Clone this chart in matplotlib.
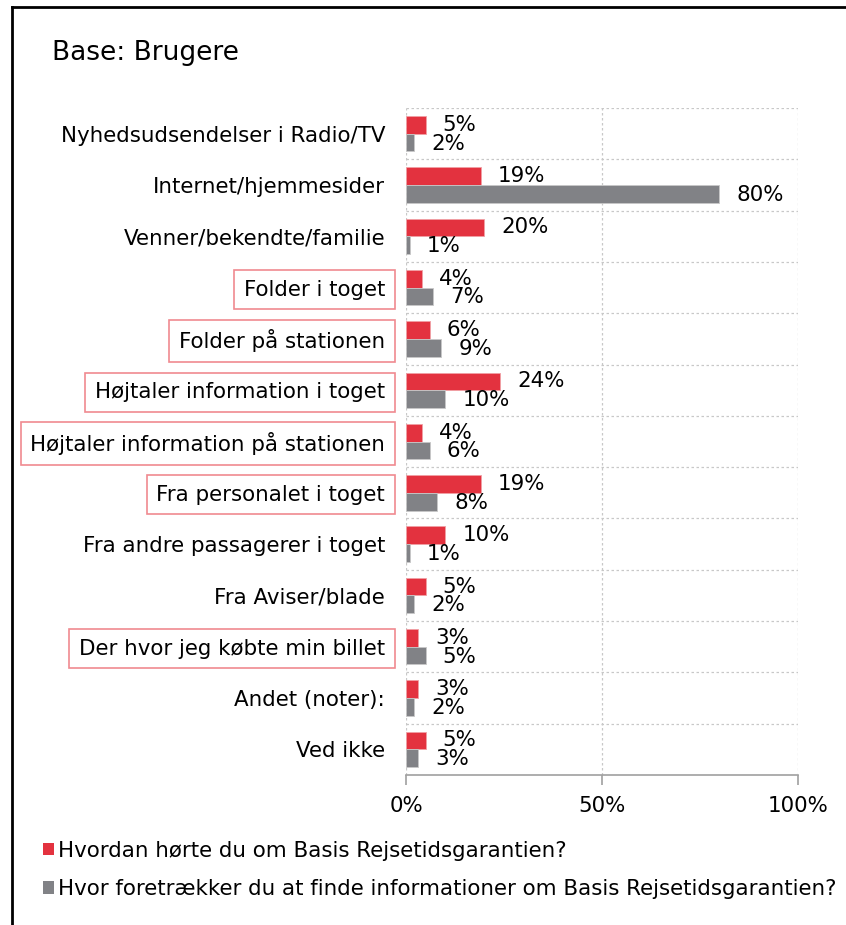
import matplotlib
matplotlib.use("Agg")
import matplotlib.pyplot as plt
from matplotlib.patches import Patch
from matplotlib.lines import Line2D
import numpy as np

# data
categories = [
    "Nyhedsudsendelser i Radio/TV",
    "Internet/hjemmesider",
    "Venner/bekendte/familie",
    "Folder i toget",
    "Folder på stationen",
    "Højtaler information i toget",
    "Højtaler information på stationen",
    "Fra personalet i toget",
    "Fra andre passagerer i toget",
    "Fra Aviser/blade",
    "Der hvor jeg købte min billet",
    "Andet (noter):",
    "Ved ikke",
]
heard = [5, 19, 20, 4, 6, 24, 4, 19, 10, 5, 3, 3, 5]
prefer = [2, 80, 1, 7, 9, 10, 6, 8, 1, 2, 5, 2, 3]
boxed = ["Folder i toget", "Folder på stationen", "Højtaler information i toget",
         "Højtaler information på stationen", "Fra personalet i toget",
         "Der hvor jeg købte min billet"]
series_names = ["Hvordan hørte du om Basis Rejsetidsgarantien?",
                "Hvor foretrækker du at finde informationer om Basis Rejsetidsgarantien?"]
xticks = [0, 50, 100]

RED = "#e3323f"
GREY = "#818286"
FS = 15.4

plt.rcParams['font.family'] = ['DejaVu Sans']

fig = plt.figure(figsize=(8.46, 9.25), dpi=100)
ax = fig.add_axes([0.480, 0.1622, 0.463, 0.721])

y = np.arange(len(categories))
h = 0.345
ax.barh(y - h / 2, heard, height=h, color=RED, edgecolor="#f0a0a5", linewidth=0.6, zorder=3)
ax.barh(y + h / 2, prefer, height=h, color=GREY, edgecolor="#c8c8c8", linewidth=0.6, zorder=3)

# value labels (they touch each other a little, as in the original)
for i in range(len(categories)):
    ax.annotate(f"{heard[i]}%", (heard[i], y[i] - h / 2), xytext=(17, 0),
                textcoords="offset pixels", va="center", ha="left", fontsize=FS)
    ax.annotate(f"{prefer[i]}%", (prefer[i], y[i] + h / 2), xytext=(17, -1),
                textcoords="offset pixels", va="center", ha="left", fontsize=FS)

ax.set_xlim(0, 100)
ax.set_ylim(len(categories) - 0.5, -0.5)
ax.set_yticks(y)
ax.set_yticklabels(categories, fontsize=FS)
ax.tick_params(axis="y", length=0, pad=15)
ax.set_xticks(xticks)
ax.set_xticklabels([f"{t}%" for t in xticks], fontsize=FS)
ax.tick_params(axis="x", length=7, color="#a0a0a0", width=1.2, pad=8)

for lab in ax.get_yticklabels():
    if lab.get_text() in boxed:
        lab.set_bbox(dict(boxstyle="square,pad=0.45", facecolor="none",
                          edgecolor="#f08a90", linewidth=1.2))

# grid
for b in np.arange(len(categories)) - 0.5:
    ax.axhline(b, color="#c8c8c8", linestyle=(0, (2, 2)), linewidth=0.9, zorder=1)
for t in xticks:
    ax.axvline(t, color="#c8c8c8", linestyle=(0, (2, 2)), linewidth=0.9, zorder=1)
for s in ["top", "right", "left"]:
    ax.spines[s].set_visible(False)
ax.spines["bottom"].set_color("#a0a0a0")
ax.spines["bottom"].set_linewidth(1.2)

fig.text(52 / 846, 1 - 53 / 925, "Base: Brugere", fontsize=19, va="center", ha="left")

handles = [Patch(facecolor=RED), Patch(facecolor=GREY)]
fig.legend(handles, series_names, loc="upper left", bbox_to_anchor=(34 / 846, 1 - 832 / 925),
           frameon=False, fontsize=FS, handlelength=0.52, handleheight=0.52,
           handletextpad=0.2, labelspacing=0.87, borderaxespad=0)

# frame lines
fig.add_artist(Line2D([12 / 846, 12 / 846], [0, 1 - 7 / 925], color="black", linewidth=2))
fig.add_artist(Line2D([12 / 846, 1], [1 - 7 / 925, 1 - 7 / 925], color="black", linewidth=2))

fig.savefig("out.png", dpi=100)
